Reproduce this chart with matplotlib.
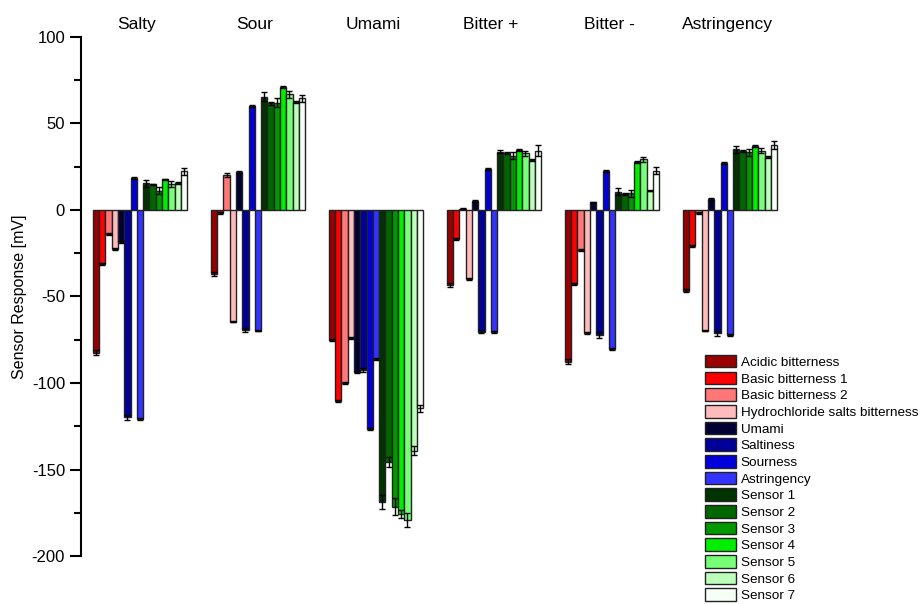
import numpy as np
import matplotlib.pyplot as plt

plt.rcParams['font.family'] = ['Liberation Sans', 'DejaVu Sans']
plt.rcParams['axes.unicode_minus'] = False

tastes = ['Salty', 'Sour', 'Umami', 'Bitter +', 'Bitter -', 'Astringency']
sensors = ['Acidic bitterness', 'Basic bitterness 1', 'Basic bitterness 2',
           'Hydrochloride salts bitterness', 'Umami', 'Saltiness', 'Sourness',
           'Astringency', 'Sensor 1', 'Sensor 2', 'Sensor 3', 'Sensor 4',
           'Sensor 5', 'Sensor 6', 'Sensor 7']
colors = ['#990000', '#ff0000', '#ff7777', '#ffbbbb', '#000033', '#000099',
          '#0000dd', '#3333ff', '#003300', '#006600', '#009900', '#00ee00',
          '#77ff77', '#bbffbb', '#f5fff5']

# mean response [mV] of each sensor, one list per taste sample
salty = [-82.5, -31.4, -13.9, -22.5, -18.3, -119.9, 18.3, -120.8,
         15.4, 14.8, 11.2, 17.7, 15.0, 15.4, 22.5]
sour = [-37.2, -1.9, 20.2, -64.5, 21.8, -69.4, 60.3, -69.7,
        65.5, 61.7, 62.0, 70.9, 67.0, 62.6, 64.5]
umami = [-75.1, -110.4, -99.8, -73.8, -93.8, -92.5, -126.4, -86.3,
         -168.6, -145.5, -171.5, -175.7, -179.2, -139.1, -114.6]
bitter_pos = [-43.4, -16.8, 0.8, -39.9, 5.2, -70.3, 23.5, -70.7,
              33.7, 32.8, 31.4, 34.7, 32.8, 28.9, 34.3]
bitter_neg = [-87.7, -42.8, -23.1, -70.9, 4.4, -72.3, 22.7, -80.4,
              10.6, 9.1, 9.6, 27.9, 29.3, 11.2, 22.7]
astringency = [-46.6, -20.8, -1.9, -69.7, 6.4, -71.3, 27.0, -72.3,
               35.1, 34.3, 33.3, 37.0, 34.3, 30.8, 37.6]

# standard deviations
salty_sd = [1.5, 0.5, 0.5, 0.5, 0.5, 1.5, 0.5, 0.5, 2, 0.5, 2, 0.5, 1.5, 0.5, 2]
sour_sd = [1.2, 0.5, 1, 0.5, 0.5, 1.2, 0.5, 0.5, 2.5, 1, 2.5, 0.5, 2, 0.5, 2]
umami_sd = [0.5, 0.5, 0.5, 0.5, 0.5, 1, 0.5, 0.5, 4, 3, 5, 2.5, 4, 2.5, 2]
bitter_pos_sd = [1, 0.5, 0.5, 0.5, 0.5, 1, 0.5, 0.5, 1, 0.5, 2, 0.5, 1.5, 0.5, 3]
bitter_neg_sd = [1.5, 0.5, 0.5, 0.5, 0.5, 1.5, 0.5, 0.5, 2, 0.5, 2, 0.5, 1.5, 0.5, 2]
astringency_sd = [1, 0.5, 0.5, 0.5, 0.5, 1.5, 0.5, 0.5, 2, 0.5, 2, 0.5, 1.5, 0.5, 2.5]

means = np.array([salty, sour, umami, bitter_pos, bitter_neg, astringency])
sds = np.array([salty_sd, sour_sd, umami_sd, bitter_pos_sd, bitter_neg_sd, astringency_sd])

fig = plt.figure(figsize=(9.22, 6.04), dpi=100)
ax = fig.add_axes([81 / 922, 48 / 604, 708 / 922, 519 / 604])

x = np.arange(len(tastes))
width = 0.8 / len(sensors)
for k, name in enumerate(sensors):
    pos = x + (k - 7) * width
    ax.bar(pos, means[:, k], width, color=colors[k], edgecolor='#222222',
           linewidth=1, label=name, zorder=2)
    ax.errorbar(pos, means[:, k], yerr=sds[:, k], fmt='none', ecolor='black',
                elinewidth=1, capsize=2, capthick=1, zorder=3)

for i, t in enumerate(tastes):
    ax.text(i - 0.025, 107.5, t, ha='center', va='center', fontsize=12.5,
            clip_on=False)

ax.set_xlim(-0.5, 5.5)
ax.set_ylim(-200, 100)
ax.set_yticks(np.arange(-200, 101, 50))
ax.set_yticks(np.arange(-175, 100, 50), minor=True)
ax.set_xticks([])
for side in ['top', 'right', 'bottom']:
    ax.spines[side].set_visible(False)
ax.spines['left'].set_linewidth(1.5)
ax.tick_params(axis='y', which='major', length=8, width=1.5, labelsize=12)
ax.tick_params(axis='y', which='minor', length=5, width=1.5)
ax.set_ylabel('Sensor Response [mV]', fontsize=11.5, labelpad=3)

handles, labels = ax.get_legend_handles_labels()
fig.legend(handles, labels, loc='upper left', bbox_to_anchor=(705 / 922, 1 - 355 / 604),
           frameon=False, fontsize=9.7, handlelength=2.3, handleheight=1.05,
           handletextpad=0.35, labelspacing=0.21, borderpad=0, borderaxespad=0)

fig.savefig('out.png', dpi=100)
